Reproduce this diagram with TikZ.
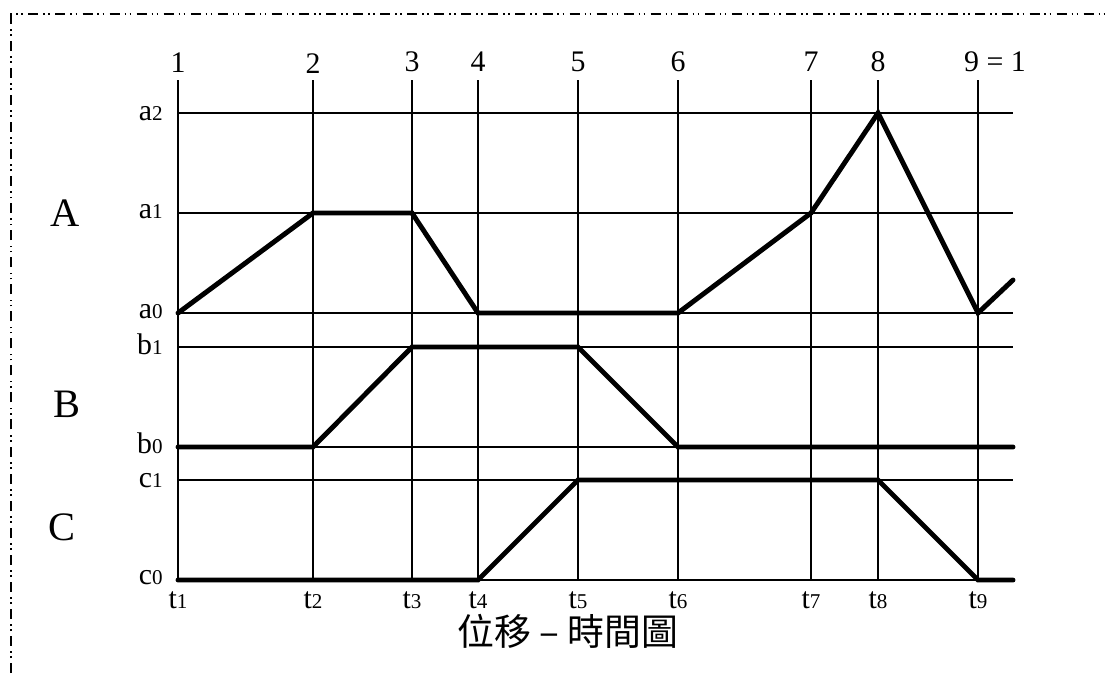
\documentclass[tikz,border=0pt]{standalone}
\usepackage{fontspec}
\setmainfont{Liberation Serif}
\newfontfamily\cjk{Noto Sans CJK TC}
\newcommand{\lowdigit}[1]{{\fontsize{12}{12}\selectfont #1}}

\begin{document}
\begin{tikzpicture}[x=0.02cm,y=-0.02cm,every node/.style={inner sep=0pt},
	gridline/.style={line width=1.1pt},
	motion/.style={line width=2.8pt,line cap=round},
	frame/.style={line width=1.2pt,dash pattern=on 5.7pt off 2.8pt on 0.9pt off 2pt on 0.9pt off 3.1pt},
	level/.style={anchor=base east,font=\fontsize{17}{17}\selectfont},
	tick/.style={anchor=base,font=\fontsize{17}{17}\selectfont},
	stepnum/.style={font=\fontsize{17}{17}\selectfont},
	cam/.style={font=\fontsize{23}{23}\selectfont}]

\useasboundingbox (0,0) rectangle (1105,673);
\draw[frame] (11,673) -- (11,14) -- (1105,14);

% grid
\coordinate (a2) at (178,113);
\coordinate (a1) at (178,213);
\coordinate (a0) at (178,313);
\coordinate (b1) at (178,347);
\coordinate (b0) at (178,447);
\coordinate (c1) at (178,480);
\coordinate (c0) at (178,580);
\coordinate (end) at (1013,580);
\coordinate (aend) at (1013,280);

\foreach \i/\x in {1/178,2/313,3/412,4/478,5/578,6/678,7/811,8/878,9/978}
	{\coordinate (p\i) at (\x,80);
	 \draw[gridline] (p\i) -- (p\i |- c0);
	 \node[tick] (t\i) at (\x,608) {t\lowdigit{\i}};}

\foreach \l in {a2,a1,a0,b1,b0,c1,c0}
	\draw[gridline] (\l) -- (\l -| end);

% step numbers
\node[stepnum] (n1) at (178,63) {1};
\node[stepnum] (n2) at (313,64) {2};
\node[stepnum] (n3) at (412,62) {3};
\node[stepnum] (n4) at (478,62) {4};
\node[stepnum] (n5) at (578,62) {5};
\node[stepnum] (n6) at (678,62) {6};
\node[stepnum] (n7) at (811,62) {7};
\node[stepnum] (n8) at (878,62) {8};
\node[stepnum] (n9) at (995,62) {9 = 1};

% levels
\node[level] (la2) at (163,120) {a\lowdigit{2}};
\node[level] (la1) at (163,218) {a\lowdigit{1}};
\node[level] (la0) at (163,318) {a\lowdigit{0}};
\node[level] (lb1) at (163,354) {b\lowdigit{1}};
\node[level] (lb0) at (163,453) {b\lowdigit{0}};
\node[level] (lc1) at (163,487) {c\lowdigit{1}};
\node[level] (lc0) at (163,584) {c\lowdigit{0}};

\node[cam] (camA) at (65,213) {A};
\node[cam] (camB) at (67,404) {B};
\node[cam] (camC) at (62,527) {C};

% motion
\draw[motion] (p1 |- a0) -- (p2 |- a1) -- (p3 |- a1) -- (p4 |- a0) -- (p6 |- a0)
	-- (p7 |- a1) -- (p8 |- a2) -- (p9 |- a0) -- (aend);
\draw[motion] (p1 |- b0) -- (p2 |- b0) -- (p3 |- b1) -- (p5 |- b1) -- (p6 |- b0) -- (end |- b0);
\draw[motion] (p1 |- c0) -- (p4 |- c0) -- (p5 |- c1) -- (p8 |- c1) -- (p9 |- c0) -- (end);

\node[font=\cjk\fontsize{21}{21}\selectfont] (title) at (568,631) {位移 – 時間圖};
\end{tikzpicture}
\end{document}
